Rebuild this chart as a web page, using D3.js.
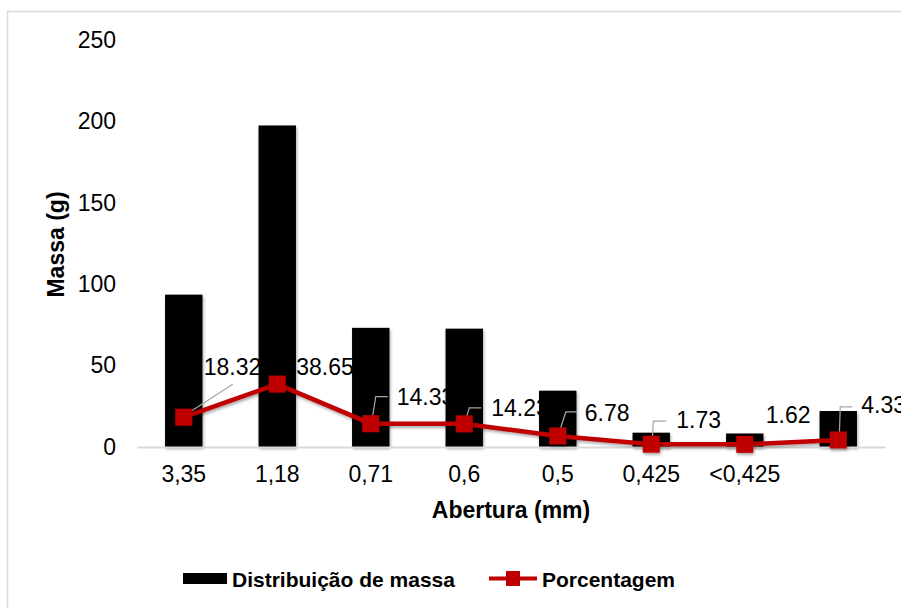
<!DOCTYPE html>
<html lang="pt">
  <head>
    <meta charset="UTF-8" />
    <title>Distribuição de massa</title>
    <script src="https://d3js.org/d3.v7.min.js"></script>
    <style>
      body { margin: 0; background: #fff; }
      text { font-family: 'Liberation Sans', Arial, sans-serif; fill: #000; }
    </style>
  </head>
  <body>
    <div id="chart"></div>
    <script>
      const categories = ['3,35', '1,18', '0,71', '0,6', '0,5', '0,425', '<0,425', ''];
      const massa = [93.6, 197.5, 73.2, 72.7, 34.6, 8.8, 8.3, 22.1];
      const porcentagem = [18.32, 38.65, 14.33, 14.23, 6.78, 1.73, 1.62, 4.33];
      const yTicks = [0, 50, 100, 150, 200, 250];

      // label placement (px from the marker), leader = elbow point or null
      const labelPos = [
        { dx: 20, dy: -42, leader: [[49, -33]] },
        { dx: 19, dy: -9, leader: null },
        { dx: 26, dy: -19, leader: [[5, -27], [17, -27]] },
        { dx: 27, dy: -8, leader: [[5, -16], [17, -16]] },
        { dx: 27, dy: -15, leader: [[8, -24], [19, -24]] },
        { dx: 25, dy: -16, leader: [[2, -23], [15, -23]] },
        { dx: 21, dy: -21, leader: null },
        { dx: 23, dy: -27, leader: [[2, -33], [14, -33]] },
      ];

      const width = 901;
      const height = 608;
      const red = '#c00000';

      const svg = d3
        .select('#chart')
        .append('svg')
        .attr('width', width)
        .attr('height', height);

      const defs = svg.append('defs');
      defs
        .append('filter')
        .attr('id', 'shadow')
        .attr('x', '-30%')
        .attr('y', '-30%')
        .attr('width', '160%')
        .attr('height', '160%')
        .append('feDropShadow')
        .attr('dx', 1)
        .attr('dy', 2)
        .attr('stdDeviation', 1.5)
        .attr('flood-color', '#000')
        .attr('flood-opacity', 0.35);

      // chart frame
      svg
        .append('rect')
        .attr('x', 7.5)
        .attr('y', 11.5)
        .attr('width', width + 20)
        .attr('height', height + 20)
        .attr('fill', 'none')
        .attr('stroke', '#d9d9d9')
        .attr('stroke-width', 1.5);

      const x = d3
        .scaleBand()
        .domain(d3.range(categories.length))
        .range([137, 885])
        .paddingInner(0.6)
        .paddingOuter(0.3);

      const y = d3.scaleLinear().domain([0, 250]).range([447, 40]);

      const cx = (i) => x(i) + x.bandwidth() / 2;

      // y axis labels
      svg
        .append('g')
        .attr('transform', 'translate(116,0)')
        .call(d3.axisLeft(y).tickValues(yTicks).tickSize(0).tickPadding(0))
        .call((g) => g.select('.domain').remove())
        .selectAll('text')
        .attr('font-size', 23)
        .attr('font-family', "'Liberation Sans', Arial, sans-serif")
        .attr('fill', '#000');

      // data labels (sit under the bars, as in the source)
      svg
        .append('g')
        .selectAll('text')
        .data(porcentagem)
        .join('text')
        .attr('x', (d, i) => cx(i) + labelPos[i].dx)
        .attr('y', (d, i) => y(d) + labelPos[i].dy)
        .attr('font-size', 23)
        .text((d) => d.toFixed(2));

      // bars
      svg
        .append('g')
        .selectAll('rect')
        .data(massa)
        .join('rect')
        .attr('x', (d, i) => x(i))
        .attr('y', (d) => y(d))
        .attr('width', x.bandwidth())
        .attr('height', (d) => y(0) - y(d))
        .attr('fill', '#000')
        .attr('filter', 'url(#shadow)');

      // x axis
      const xAxis = svg
        .append('g')
        .attr('transform', `translate(0,${y(0)})`)
        .call(
          d3
            .axisBottom(x)
            .tickSize(0)
            .tickPadding(19)
            .tickFormat((i) => categories[i])
        );
      xAxis
        .select('.domain')
        .attr('stroke', '#d9d9d9')
        .attr('stroke-width', 2);
      xAxis
        .selectAll('text')
        .attr('font-size', 23)
        .attr('font-family', "'Liberation Sans', Arial, sans-serif")
        .attr('fill', '#000');

      // leader lines
      svg
        .append('g')
        .selectAll('polyline')
        .data(porcentagem.map((d, i) => ({ d, i })).filter((p) => labelPos[p.i].leader))
        .join('polyline')
        .attr('points', (p) => {
          const x0 = cx(p.i) + 1;
          const y0 = y(p.d) - 2;
          return [[x0, y0]]
            .concat(labelPos[p.i].leader.map(([a, b]) => [cx(p.i) + a, y(p.d) + b]))
            .map((q) => q.join(','))
            .join(' ');
        })
        .attr('fill', 'none')
        .attr('stroke', '#a6a6a6')
        .attr('stroke-width', 1.2);

      // percentage line
      const line = d3
        .line()
        .x((d, i) => cx(i))
        .y((d) => y(d));

      svg
        .append('path')
        .datum(porcentagem)
        .attr('d', line)
        .attr('fill', 'none')
        .attr('stroke', red)
        .attr('stroke-width', 4.5)
        .attr('filter', 'url(#shadow)');

      const ms = 17;
      svg
        .append('g')
        .selectAll('rect')
        .data(porcentagem)
        .join('rect')
        .attr('x', (d, i) => cx(i) - ms / 2)
        .attr('y', (d) => y(d) - ms / 2)
        .attr('width', ms)
        .attr('height', ms)
        .attr('fill', red)
        .attr('filter', 'url(#shadow)');

      // axis titles
      svg
        .append('text')
        .attr('transform', `translate(64,${y(125) + 1}) rotate(-90)`)
        .attr('text-anchor', 'middle')
        .attr('font-size', 23)
        .attr('font-weight', 'bold')
        .text('Massa (g)');

      svg
        .append('text')
        .attr('x', 511)
        .attr('y', 518)
        .attr('text-anchor', 'middle')
        .attr('font-size', 23)
        .attr('font-weight', 'bold')
        .text('Abertura (mm)');

      // legend
      const legend = svg.append('g');
      legend
        .append('rect')
        .attr('x', 183)
        .attr('y', 573)
        .attr('width', 44)
        .attr('height', 11)
        .attr('fill', '#000');
      legend
        .append('text')
        .attr('x', 232)
        .attr('y', 587)
        .attr('font-size', 21)
        .attr('font-weight', 'bold')
        .text('Distribuição de massa');

      legend
        .append('line')
        .attr('x1', 489)
        .attr('x2', 537)
        .attr('y1', 578.5)
        .attr('y2', 578.5)
        .attr('stroke', red)
        .attr('stroke-width', 4);
      legend
        .append('rect')
        .attr('x', 506)
        .attr('y', 571)
        .attr('width', 14)
        .attr('height', 15)
        .attr('fill', red);
      legend
        .append('text')
        .attr('x', 542)
        .attr('y', 587)
        .attr('font-size', 21)
        .attr('font-weight', 'bold')
        .text('Porcentagem');
    </script>
  </body>
</html>
